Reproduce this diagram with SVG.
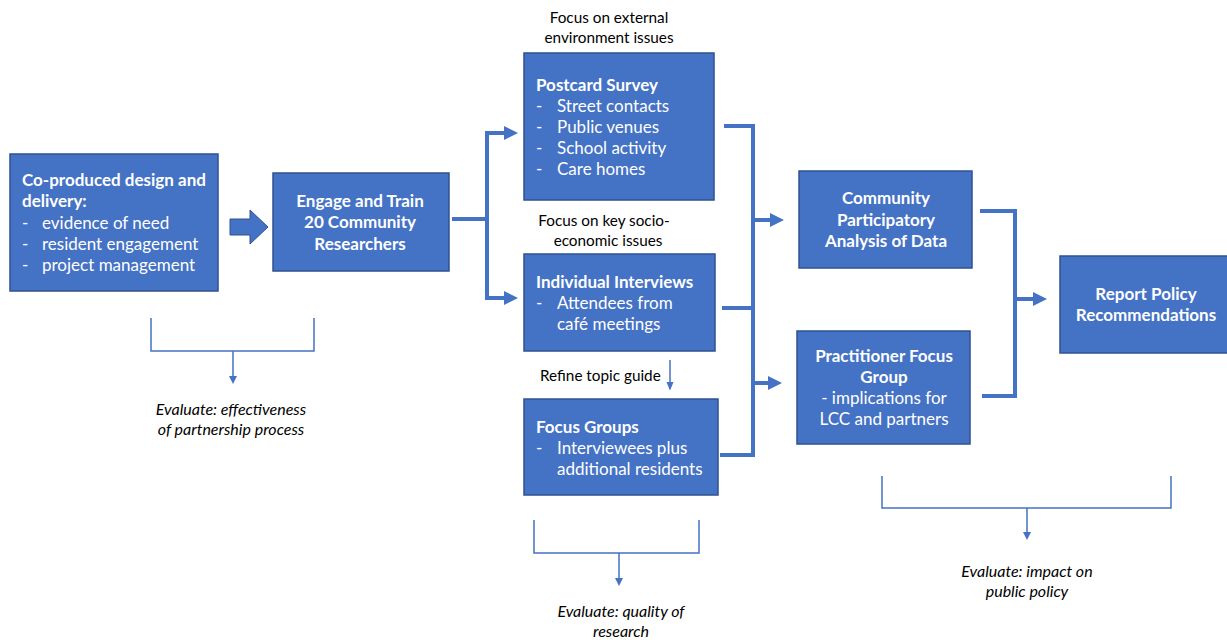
<svg xmlns="http://www.w3.org/2000/svg" width="1227" height="642" viewBox="0 0 1227 642">
<defs>
<style>
.box{fill:#4472C4;stroke:#2F528F;stroke-width:1.5}
.bt{font-family:Lato,"Open Sans","Liberation Sans",sans-serif;font-size:17px;fill:#fff}
.b{font-weight:bold}
.lbl{font-family:Lato,"Open Sans","Liberation Sans",sans-serif;font-size:15.3px;fill:#000}
.ev{font-family:Lato,"Open Sans","Liberation Sans",sans-serif;font-size:16px;fill:#000;font-style:italic}
.thick{fill:none;stroke:#4472C4;stroke-width:4}
.thin{fill:none;stroke:#4472C4;stroke-width:1.5}
</style>
<marker id="ah" markerWidth="3.5" markerHeight="3.5" refX="0.5" refY="1.75" orient="auto" markerUnits="strokeWidth">
<path d="M0,0 L3.5,1.75 L0,3.5 Z" fill="#4472C4"/>
</marker>
<marker id="ahs" markerWidth="6" markerHeight="6" refX="5" refY="3" orient="auto" markerUnits="strokeWidth">
<path d="M0,0.5 L6,3 L0,5.5 Z" fill="#4472C4"/>
</marker>
</defs>
<rect width="1227" height="642" fill="#fff"/>

<g id="connectors">
<path class="thick" d="M452,219 H487 M487,133 V298"/>
<path class="thick" d="M485,133 H506" marker-end="url(#ah)"/>
<path class="thick" d="M485,298 H506" marker-end="url(#ah)"/>
<path class="thick" d="M724,126 H753 V455 H720 M722,308 H753"/>
<path class="thick" d="M753,220 H772" marker-end="url(#ah)"/>
<path class="thick" d="M753,383 H770" marker-end="url(#ah)"/>
<path class="thick" d="M980,211 H1015 V396 H982"/>
<path class="thick" d="M1015,299 H1035" marker-end="url(#ah)"/>
<path d="M230,219 H250 V210 L268,227 L250,244 V235 H230 Z" fill="#4472C4" stroke="#2F528F" stroke-width="1"/>
<path class="thin" d="M670,360 V389" stroke-width="1" marker-end="url(#ahs)"/>
<path class="thin" d="M151,318 V351 H314 V318 M233,351 V380" />
<path d="M229,376 L237,376 L233,384 Z" fill="#4472C4"/>
<path class="thin" d="M534,520 V553 H699 V520 M619,553 V582"/>
<path d="M615,578 L623,578 L619,586 Z" fill="#4472C4"/>
<path class="thin" d="M882,476 V508 H1171 V476 M1027,508 V536"/>
<path d="M1023,532 L1031,532 L1027,540 Z" fill="#4472C4"/>
</g>

<g id="coproduced">
<rect class="box" x="10" y="154" width="208" height="137"/>
<text class="bt b" x="22" y="186">Co-produced design and</text>
<text class="bt b" x="22" y="207">delivery:</text>
<text class="bt" x="22" y="229">-</text><text class="bt" x="42" y="229">evidence of need</text>
<text class="bt" x="22" y="250">-</text><text class="bt" x="42" y="250">resident engagement</text>
<text class="bt" x="22" y="271">-</text><text class="bt" x="42" y="271">project management</text>
</g>

<g id="engage">
<rect class="box" x="273" y="173" width="176" height="98"/>
<text class="bt b" text-anchor="middle" x="360" y="207">Engage and Train</text>
<text class="bt b" text-anchor="middle" x="360" y="228">20 Community</text>
<text class="bt b" text-anchor="middle" x="360" y="250">Researchers</text>
</g>

<g id="postcard">
<text class="lbl" text-anchor="middle" x="609" y="23">Focus on external</text>
<text class="lbl" text-anchor="middle" x="609" y="43">environment issues</text>
<rect class="box" x="524" y="53" width="190" height="147"/>
<text class="bt b" x="536" y="91">Postcard Survey</text>
<text class="bt" x="536" y="112">-</text><text class="bt" x="557" y="112">Street contacts</text>
<text class="bt" x="536" y="133">-</text><text class="bt" x="557" y="133">Public venues</text>
<text class="bt" x="536" y="154">-</text><text class="bt" x="557" y="154">School activity</text>
<text class="bt" x="536" y="175">-</text><text class="bt" x="557" y="175">Care homes</text>
</g>

<g id="interviews">
<text class="lbl" text-anchor="middle" x="604" y="226">Focus on key socio-</text>
<text class="lbl" text-anchor="middle" x="608" y="246">economic issues</text>
<rect class="box" x="524" y="254" width="191" height="97"/>
<text class="bt b" x="536" y="288">Individual Interviews</text>
<text class="bt" x="536" y="309">-</text><text class="bt" x="557" y="309">Attendees from</text>
<text class="bt" x="557" y="330">café meetings</text>
</g>

<g id="focusgroups">
<text class="lbl" x="540" y="381">Refine topic guide</text>
<rect class="box" x="524" y="399" width="194" height="96"/>
<text class="bt b" x="536" y="433">Focus Groups</text>
<text class="bt" x="536" y="454">-</text><text class="bt" x="557" y="454">Interviewees plus</text>
<text class="bt" x="557" y="475">additional residents</text>
</g>

<g id="community">
<rect class="box" x="799" y="171" width="173" height="97"/>
<text class="bt b" text-anchor="middle" x="886" y="204">Community</text>
<text class="bt b" text-anchor="middle" x="886" y="226">Participatory</text>
<text class="bt b" text-anchor="middle" x="886" y="247">Analysis of Data</text>
</g>

<g id="practitioner">
<rect class="box" x="797" y="331" width="173" height="113"/>
<text class="bt b" text-anchor="middle" x="884" y="362">Practitioner Focus</text>
<text class="bt b" text-anchor="middle" x="884" y="383">Group</text>
<text class="bt" text-anchor="middle" x="884" y="404">-  implications for</text>
<text class="bt" text-anchor="middle" x="884" y="425">LCC and partners</text>
</g>

<g id="report">
<rect class="box" x="1060" y="256" width="170" height="97"/>
<text class="bt b" text-anchor="middle" x="1146" y="300">Report Policy</text>
<text class="bt b" text-anchor="middle" x="1146" y="321">Recommendations</text>
</g>

<g id="eval1">
<text class="ev" text-anchor="middle" x="231" y="415">Evaluate: effectiveness</text>
<text class="ev" text-anchor="middle" x="231" y="435">of partnership process</text>
</g>
<g id="eval2">
<text class="ev" text-anchor="middle" x="621" y="617">Evaluate: quality of</text>
<text class="ev" text-anchor="middle" x="621" y="637">research</text>
</g>
<g id="eval3">
<text class="ev" text-anchor="middle" x="1027" y="577">Evaluate: impact on</text>
<text class="ev" text-anchor="middle" x="1027" y="597">public policy</text>
</g>
</svg>
